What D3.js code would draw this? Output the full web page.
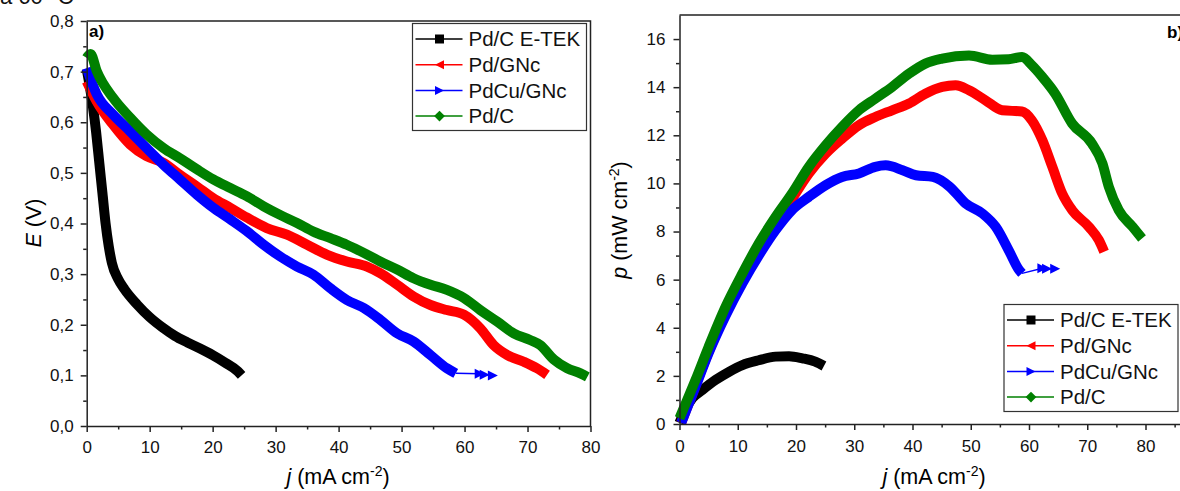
<!DOCTYPE html>
<html>
<head>
<meta charset="utf-8">
<script src="https://cdn.jsdelivr.net/npm/d3@7"></script>
<style>
  body { margin: 0; background: #fff; }
  svg { display: block; font-family: "Liberation Sans", Arial, sans-serif; }
</style>
</head>
<body>
<div id="chart"></div>
<script>

var seriesNames = ['Pd/C E-TEK', 'Pd/GNc', 'PdCu/GNc', 'Pd/C'];
var seriesColors = ['#000000', '#ff0000', '#0000ff', '#008000'];
var seriesSymbols = ['square', 'left', 'right', 'diamond'];

// panel a) cell potential E (V) vs j (mA cm-2)
var etekE = [[0, 0.705], [0.5, 0.67], [1, 0.63], [1.5, 0.58], [2, 0.52], [2.5, 0.46], [3, 0.40],
    [3.5, 0.355], [4, 0.322], [5, 0.29], [6, 0.27], [8, 0.24], [10, 0.215], [12, 0.195],
    [14, 0.178], [16, 0.165], [18, 0.153], [20, 0.14], [22, 0.125], [24, 0.108], [24.6, 0.1]];
var pdgncE = [[0, 0.681], [1.6, 0.641], [4.2, 0.595], [6.9, 0.556], [9.5, 0.533], [12.2, 0.52],
    [14.8, 0.496], [17.5, 0.473], [20.1, 0.45], [22.8, 0.431], [25.4, 0.412], [28.6, 0.391],
    [31.8, 0.378], [35, 0.358], [38.2, 0.338], [41.3, 0.325], [44.5, 0.315], [46.6, 0.302],
    [49.3, 0.279], [51.9, 0.256], [54.6, 0.239], [57.2, 0.229], [59.9, 0.22], [62.5, 0.193],
    [64.6, 0.16], [66.8, 0.14], [69.4, 0.127], [71.5, 0.114], [73.1, 0.101]];
var pdcuE = [[0, 0.707], [1.6, 0.655], [4.2, 0.615], [6.9, 0.582], [9.5, 0.549], [12.2, 0.516],
    [14.8, 0.487], [17.5, 0.457], [20.1, 0.431], [22.8, 0.408], [25.4, 0.385], [28.1, 0.358],
    [30.7, 0.335], [33.4, 0.315], [36, 0.299], [38.7, 0.272], [41.3, 0.249], [44, 0.233],
    [46.6, 0.21], [49.3, 0.183], [51.9, 0.167], [54.6, 0.14], [57.2, 0.114], [58.6, 0.104]];
var pdcuTailE = [[62.4, 0.103], [63.2, 0.101], [64.5, 0.1]];
var pdcE = [[0, 0.727], [0.6, 0.735], [1.6, 0.701], [4.2, 0.648], [6.9, 0.609], [9.5, 0.576],
    [12.2, 0.549], [14.8, 0.529], [17.5, 0.507], [20.1, 0.487], [22.8, 0.47], [25.4, 0.454],
    [28.1, 0.434], [30.7, 0.417], [33.4, 0.401], [36, 0.384], [38.7, 0.371], [41.3, 0.358],
    [44, 0.342], [46.6, 0.325], [49.3, 0.309], [51.9, 0.292], [54.6, 0.279], [57.2, 0.269],
    [59.9, 0.253], [62.5, 0.229], [65.2, 0.206], [67.8, 0.183], [70.4, 0.17], [72, 0.16],
    [74.2, 0.131], [76.3, 0.114], [78.4, 0.104], [79.5, 0.097]];

// panel b) power density p (mW cm-2) vs j (mA cm-2)
var etekP = [[0, 0.05], [1, 0.6], [2.2, 1.07], [3.9, 1.41], [6.2, 1.83], [8.5, 2.17], [10.8, 2.45],
    [13.6, 2.65], [16.5, 2.8], [18.8, 2.82], [21.1, 2.73], [23.3, 2.59], [24.8, 2.41]];
var pdgncP = [[0.3, 0.05], [2.75, 1.6], [5, 3.0], [7.9, 4.6], [10.8, 6.0], [13.6, 7.2], [16.5, 8.3],
    [19.3, 9.35], [22.2, 10.41], [25.1, 11.24], [27.9, 11.86], [30.8, 12.42], [33.6, 12.76],
    [36.5, 13.04], [39.4, 13.32], [42.2, 13.73], [45.1, 14.01], [47.4, 14.08], [49.7, 13.87],
    [52.5, 13.46], [55.4, 13.04], [58.8, 12.99], [60.5, 12.62], [62.3, 11.79], [64, 10.69],
    [65.7, 9.58], [67.4, 8.89], [70.3, 8.19], [72, 7.64], [72.9, 7.16]];
var pdcuP = [[0.3, 0.05], [2.75, 1.55], [5, 2.95], [7.9, 4.5], [10.8, 5.85], [13.6, 7.0], [16.5, 8.06],
    [19.3, 8.89], [22.2, 9.44], [25.1, 9.93], [27.9, 10.27], [30.8, 10.41], [33.6, 10.69],
    [35.4, 10.75], [38.3, 10.55], [40.6, 10.34], [43.5, 10.27], [46.4, 9.86], [49.1, 9.17],
    [52, 8.75], [54.3, 8.19], [56.5, 7.23], [58.3, 6.4], [58.8, 6.26]];
var pdcuTailP = [[62.3, 6.47], [63.1, 6.45], [64.5, 6.45]];
var pdcP = [[0, 0.24], [2.75, 1.83], [5, 3.21], [7.9, 4.87], [10.8, 6.26], [13.6, 7.5], [16.5, 8.61],
    [19.3, 9.58], [22.2, 10.69], [25.1, 11.59], [27.9, 12.35], [30.8, 13.04], [33.6, 13.52],
    [36.5, 14.01], [39.4, 14.56], [42.2, 14.98], [45.1, 15.19], [49.7, 15.32], [53.7, 15.14],
    [56.5, 15.16], [58.8, 15.25], [60.5, 14.91], [62.3, 14.42], [64.5, 13.73], [67.4, 12.49],
    [70.8, 11.66], [72.6, 10.83], [73.7, 9.86], [75.4, 8.89], [77.8, 8.19], [79.4, 7.71]];

var jTicks = [0, 10, 20, 30, 40, 50, 60, 70, 80];
var eTicks = [0, 0.1, 0.2, 0.3, 0.4, 0.5, 0.6, 0.7, 0.8];
var pTicks = [0, 2, 4, 6, 8, 10, 12, 14, 16];

var width = 1180;
var height = 491;

var svg = d3.select('#chart')
    .append('svg')
    .attr('width', width)
    .attr('height', height);

function markerPath(kind, s) {
    var h = s / 2;
    if (kind == 'square') return 'M' + (-h) + ',' + (-h) + 'H' + h + 'V' + h + 'H' + (-h) + 'Z';
    if (kind == 'diamond') return 'M0,' + (-h * 1.2) + 'L' + (h * 1.2) + ',0L0,' + (h * 1.2) + 'L' + (-h * 1.2) + ',0Z';
    if (kind == 'left') return 'M' + (-h) + ',0L' + h + ',' + (-h) + 'L' + h + ',' + h + 'Z';
    return 'M' + h + ',0L' + (-h) + ',' + (-h) + 'L' + (-h) + ',' + h + 'Z';
}

function axisLabel(g, parts, attrs) {
    var t = g.append('text')
        .attr('font-size', '21.5px')
        .attr('fill', '#000')
        .attr('text-anchor', 'middle')
        .attr('transform', attrs.transform);
    parts.forEach(function(p) {
        var s = t.append('tspan').text(p.text);
        if (p.italic) s.attr('font-style', 'italic');
        if (p.sup) s.attr('font-size', '14px').attr('dy', -8);
        if (p.down) s.attr('dy', 8);
    });
}

function drawPanel(p) {
    var x = d3.scaleLinear().domain(p.xDomain).range([p.left, p.right]);
    var y = d3.scaleLinear().domain(p.yDomain).range([p.bottom, p.top]);
    var g = svg.append('g');

    // frame (top + right)
    g.append('path')
        .attr('d', 'M' + p.left + ',' + p.top + 'H' + p.right + 'V' + p.bottom)
        .attr('fill', 'none')
        .attr('stroke', '#222')
        .attr('stroke-width', 1.5);

    var line = d3.line()
        .x(function(d) { return x(d[0]); })
        .y(function(d) { return y(d[1]); })
        .curve(d3.curveMonotoneX);

    p.series.forEach(function(s, i) {
        g.append('path')
            .datum(s)
            .attr('d', line)
            .attr('fill', 'none')
            .attr('stroke', seriesColors[i])
            .attr('stroke-width', 10)
            .attr('stroke-linejoin', 'round');

        // blue run tail: sparse points drawn as thin line + markers
        if (i == 2) {
            var last = s[s.length - 1];
            g.append('path')
                .datum([last].concat(p.tail))
                .attr('d', d3.line().x(function(d) { return x(d[0]); }).y(function(d) { return y(d[1]); }))
                .attr('fill', 'none')
                .attr('stroke', seriesColors[2])
                .attr('stroke-width', 1.5);
            g.selectAll('.tail')
                .data(p.tail)
                .enter().append('path')
                .attr('class', 'tail')
                .attr('transform', function(d) { return 'translate(' + x(d[0]) + ',' + y(d[1]) + ')'; })
                .attr('d', markerPath('right', 10))
                .attr('fill', seriesColors[2]);
        }
    });

    // axes
    var minorX = d3.range(5, p.xDomain[1], 10);
    g.append('g')
        .attr('transform', 'translate(0,' + p.bottom + ')')
        .call(d3.axisBottom(x).tickValues(p.xTicks).tickSize(6).tickSizeOuter(0)
            .tickPadding(p.xPad).tickFormat(d3.format('d')));
    g.append('g')
        .attr('transform', 'translate(0,' + p.bottom + ')')
        .call(d3.axisBottom(x).tickValues(minorX).tickSize(3.5).tickFormat(''))
        .select('.domain').remove();

    g.append('g')
        .attr('transform', 'translate(' + p.left + ',0)')
        .call(d3.axisLeft(y).tickValues(p.yTicks).tickSize(6).tickSizeOuter(0)
            .tickPadding(p.yPad).tickFormat(p.yFormat));
    g.append('g')
        .attr('transform', 'translate(' + p.left + ',0)')
        .call(d3.axisLeft(y).tickValues(p.yMinor).tickSize(3.5).tickFormat(''))
        .select('.domain').remove();

    g.selectAll('.domain').attr('stroke', '#222').attr('stroke-width', 1.5);
    g.selectAll('.tick line').attr('stroke', '#222').attr('stroke-width', 1.5);
    g.selectAll('.tick text')
        .attr('font-size', '17px')
        .attr('font-family', '"Liberation Sans", Arial, sans-serif')
        .attr('fill', '#111');

    axisLabel(g, [{text: 'j', italic: true}, {text: ' (mA cm'}, {text: '-2', sup: true}, {text: ')', down: true}],
        {transform: 'translate(' + p.xLabel[0] + ',' + p.xLabel[1] + ')'});
    axisLabel(g, p.yLabelParts,
        {transform: 'translate(' + p.yLabel[0] + ',' + p.yLabel[1] + ') rotate(-90)'});

    g.append('text')
        .attr('x', p.tag[0]).attr('y', p.tag[1])
        .attr('font-size', '17px')
        .attr('font-weight', 'bold')
        .text(p.tagText);

    // legend
    var lg = g.append('g').attr('transform', 'translate(' + p.legend[0] + ',' + p.legend[1] + ')');
    lg.append('rect')
        .attr('width', 174).attr('height', 107)
        .attr('fill', '#fff')
        .attr('stroke', '#333')
        .attr('stroke-width', 1.2);
    var row = lg.selectAll('.row')
        .data(seriesNames)
        .enter().append('g')
        .attr('class', 'row')
        .attr('transform', function(d, i) { return 'translate(0,' + (15.5 + i * 25.7) + ')'; });
    row.append('line')
        .attr('x1', 3).attr('x2', 50)
        .attr('stroke', function(d, i) { return seriesColors[i]; })
        .attr('stroke-width', 1.5);
    row.append('path')
        .attr('transform', 'translate(27,0)')
        .attr('d', function(d, i) { return markerPath(seriesSymbols[i], 9); })
        .attr('fill', function(d, i) { return seriesColors[i]; });
    row.append('text')
        .attr('x', 56).attr('y', 7.2)
        .attr('font-size', '20.5px')
        .attr('fill', '#111')
        .text(function(d) { return d; });
}

var commaFmt = function(d) { return d3.format('.1f')(d).replace('.', ','); };

drawPanel({
    left: 86.7, right: 590.5, top: 21, bottom: 426,
    xDomain: [0, 80], yDomain: [0, 0.8],
    xTicks: jTicks, yTicks: eTicks,
    yMinor: d3.range(0.05, 0.8, 0.1),
    yFormat: commaFmt, xPad: 9, yPad: 7,
    series: [etekE, pdgncE, pdcuE, pdcE], tail: pdcuTailE,
    xLabel: [338, 484], yLabel: [41, 223],
    yLabelParts: [{text: 'E', italic: true}, {text: ' (V)'}],
    tag: [89, 37], tagText: 'a)',
    legend: [412.5, 23.5]
});

drawPanel({
    left: 679.5, right: 679.5 + 87.6 * 5.825, top: 15, bottom: 424,
    xDomain: [0, 87.6], yDomain: [0, 17],
    xTicks: jTicks, yTicks: pTicks,
    yMinor: d3.range(1, 17, 2),
    yFormat: d3.format('d'), xPad: 10, yPad: 8,
    series: [etekP, pdgncP, pdcuP, pdcP], tail: pdcuTailP,
    xLabel: [934, 484], yLabel: [627, 220],
    yLabelParts: [{text: 'p', italic: true}, {text: ' (mW cm'}, {text: '-2', sup: true}, {text: ')', down: true}],
    tag: [1167, 38], tagText: 'b)',
    legend: [1004, 304.5]
});

// cropped heading at the very top of the figure
svg.append('text')
    .attr('x', 0).attr('y', 4)
    .attr('font-size', '22px')
    .attr('fill', '#111')
    .text('a 60 °C');

</script>
</body>
</html>
